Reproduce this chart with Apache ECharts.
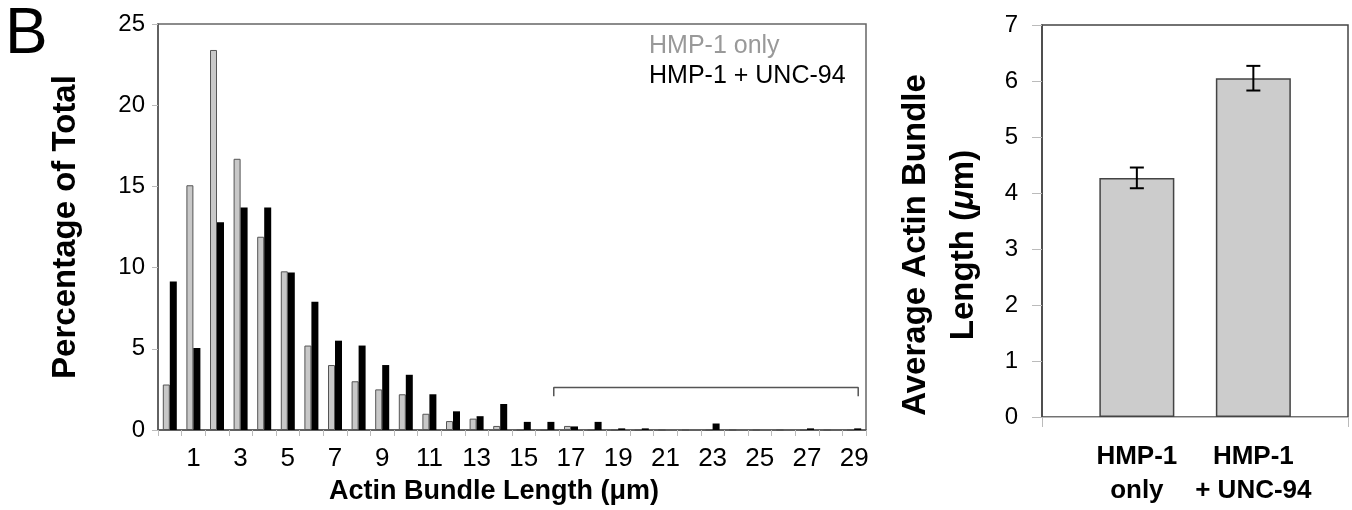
<!DOCTYPE html>
<html>
<head>
<meta charset="utf-8">
<script src="https://cdn.jsdelivr.net/npm/echarts@6/dist/echarts.min.js"></script>
<style>
  html, body {margin: 0; padding: 0; background: #fff;}
  #main {width: 1352px; height: 510px;}
</style>
</head>
<body>
<div id="main"></div>
<script>
//直方图数据
var lengthCats = [];
for (var i = 0; i < 30; i++) { lengthCats.push(String(i)); }
var hmpOnly = [2.8, 15.07, 23.4, 16.7, 11.9, 9.77, 5.2, 4.0, 3.0, 2.5,
  2.2, 1.0, 0.55, 0.7, 0.25, 0, 0, 0.25, 0, 0,
  0, 0, 0, 0, 0, 0, 0, 0, 0, 0];
var hmpUnc = [9.15, 5.05, 12.8, 13.7, 13.7, 9.7, 7.9, 5.5, 5.2, 4.0,
  3.4, 2.2, 1.15, 0.85, 1.6, 0.5, 0.5, 0.22, 0.5, 0.1,
  0.1, 0, 0, 0.4, 0, 0, 0, 0.1, 0, 0.1];
var yTicksLeft = {min: 0, max: 25, interval: 5};

//括号
var bracketX = [16.27, 16.27, 29.17, 29.17];
var bracketY = [2.08, 2.62, 2.62, 2.08];

//平均长度
var groupNames = ['HMP-1\nonly', 'HMP-1\n+ UNC-94'];
var avgLength = [4.27, 6.05];
var avgErr = [0.185, 0.22];
var yTicksRight = {min: 0, max: 7, interval: 1};

var font = 'Liberation Sans, Arial, sans-serif';

var bracketData = [];
for (var k = 0; k < bracketX.length; k++) { bracketData.push([bracketX[k], bracketY[k]]); }

var errData = [];
for (var j = 0; j < avgLength.length; j++) {
  errData.push([j, avgLength[j] - avgErr[j], avgLength[j] + avgErr[j]]);
}

var chart = echarts.init(document.getElementById('main'));
var option = {
  backgroundColor: '#fff',
  animation: false,
  textStyle: {fontFamily: font},
  title: {
    text: 'B',
    left: 0,
    top: -2,
    textStyle: {fontSize: 64, fontWeight: 'normal', color: '#000', fontFamily: font}
  },
  legend: {
    orient: 'vertical',
    left: 639,
    top: 29,
    itemWidth: 0,
    itemHeight: 25,
    itemGap: 5,
    icon: 'none',
    data: [
      {name: 'HMP-1 only', textStyle: {color: '#999'}},
      {name: 'HMP-1 + UNC-94', textStyle: {color: '#000'}}
    ],
    textStyle: {fontSize: 25, fontFamily: font}
  },
  grid: [
    {left: 158, top: 24, width: 708, height: 408, show: true, borderColor: '#666', borderWidth: 1.5},
    {left: 1042, top: 25, width: 306, height: 392, show: true, borderColor: '#444', borderWidth: 1.5},
    {left: 1078.6, top: 25, width: 233, height: 392}
  ],
  xAxis: [
    {
      type: 'category',
      gridIndex: 0,
      data: lengthCats,
      axisLine: {lineStyle: {color: '#555', width: 1.5}},
      axisTick: {show: true, interval: 0, length: 6, lineStyle: {color: '#bbb'}},
      axisLabel: {
        interval: function (index) { return index % 2 === 1; },
        fontSize: 26, color: '#000', margin: 16, fontFamily: font
      },
      name: 'Actin Bundle Length (\u03bcm)',
      nameLocation: 'middle',
      nameGap: 48,
      nameTextStyle: {fontSize: 27, fontWeight: 'bold', color: '#000', padding: [0, 36, 0, 0], fontFamily: font}
    },
    {
      type: 'value',
      gridIndex: 0,
      min: -0.5,
      max: 29.5,
      show: false
    },
    {
      type: 'value',
      gridIndex: 1,
      min: 0,
      max: 1,
      interval: 1,
      offset: 2,
      axisLine: {lineStyle: {color: '#bbb'}},
      axisTick: {show: true, length: 10, lineStyle: {color: '#bbb'}},
      axisLabel: {show: false},
      splitLine: {show: false}
    },
    {
      type: 'category',
      gridIndex: 2,
      data: groupNames,
      axisLine: {show: false},
      axisTick: {show: false},
      axisLabel: {interval: 0, fontSize: 26, fontWeight: 'bold', color: '#000', lineHeight: 34, margin: 23, fontFamily: font}
    }
  ],
  yAxis: [
    {
      type: 'value',
      gridIndex: 0,
      min: yTicksLeft.min,
      max: yTicksLeft.max,
      interval: yTicksLeft.interval,
      axisLine: {show: true, onZero: false, lineStyle: {color: '#555', width: 1.5}},
      axisTick: {show: true, length: 6, lineStyle: {color: '#bbb'}},
      axisLabel: {fontSize: 24, color: '#000', margin: 13, fontFamily: font},
      splitLine: {show: false},
      name: 'Percentage of Total',
      nameLocation: 'middle',
      nameGap: 76,
      nameTextStyle: {fontSize: 33, fontWeight: 'bold', color: '#000', fontFamily: font}
    },
    {
      type: 'value',
      gridIndex: 1,
      min: yTicksRight.min,
      max: yTicksRight.max,
      interval: yTicksRight.interval,
      axisLine: {show: true, onZero: false, lineStyle: {color: '#444', width: 1.5}},
      axisTick: {show: true, length: 10, lineStyle: {color: '#bbb'}},
      axisLabel: {fontSize: 24, color: '#000', margin: 24, fontFamily: font},
      splitLine: {show: false},
      name: '{t|Average Actin Bundle}\n{t|Length (}{i|\u03bc}{t|m)}',
      nameLocation: 'middle',
      nameGap: 54,
      nameTextStyle: {
        padding: [0, 48, 0, 0],
        rich: {
          t: {fontSize: 33, fontWeight: 'bold', color: '#000', lineHeight: 48, fontFamily: font},
          i: {fontSize: 33, fontWeight: 'bold', fontStyle: 'italic', color: '#000', lineHeight: 48, fontFamily: font}
        }
      }
    },
    {
      type: 'value',
      gridIndex: 2,
      min: yTicksRight.min,
      max: yTicksRight.max,
      show: false
    }
  ],
  series: [
    {
      name: 'HMP-1 only',
      type: 'bar',
      xAxisIndex: 0,
      yAxisIndex: 0,
      data: hmpOnly,
      barWidth: 7,
      barGap: '0%',
      itemStyle: {color: '#c8c8c8', borderColor: '#555', borderWidth: 1}
    },
    {
      name: 'HMP-1 + UNC-94',
      type: 'bar',
      xAxisIndex: 0,
      yAxisIndex: 0,
      data: hmpUnc,
      barWidth: 7,
      barGap: '0%',
      itemStyle: {color: '#000'}
    },
    {
      name: 'bracket',
      type: 'line',
      xAxisIndex: 1,
      yAxisIndex: 0,
      data: bracketData,
      symbol: 'none',
      lineStyle: {color: '#555', width: 1.5},
      silent: true
    },
    {
      name: 'avg',
      type: 'bar',
      xAxisIndex: 3,
      yAxisIndex: 2,
      data: avgLength,
      barWidth: 75,
      itemStyle: {color: '#cccccc', borderColor: '#444', borderWidth: 1.5}
    },
    {
      name: 'err',
      type: 'custom',
      xAxisIndex: 3,
      yAxisIndex: 2,
      z: 5,
      data: errData,
      renderItem: function (params, api) {
        var x = api.value(0);
        var lo = api.coord([x, api.value(1)]);
        var hi = api.coord([x, api.value(2)]);
        var hw = 7;
        var st = {stroke: '#000', lineWidth: 2};
        return {
          type: 'group',
          children: [
            {type: 'line', shape: {x1: lo[0], y1: lo[1], x2: hi[0], y2: hi[1]}, style: st},
            {type: 'line', shape: {x1: hi[0] - hw, y1: hi[1], x2: hi[0] + hw, y2: hi[1]}, style: st},
            {type: 'line', shape: {x1: lo[0] - hw, y1: lo[1], x2: lo[0] + hw, y2: lo[1]}, style: st}
          ]
        };
      }
    }
  ]
};
chart.setOption(option);
</script>
</body>
</html>
